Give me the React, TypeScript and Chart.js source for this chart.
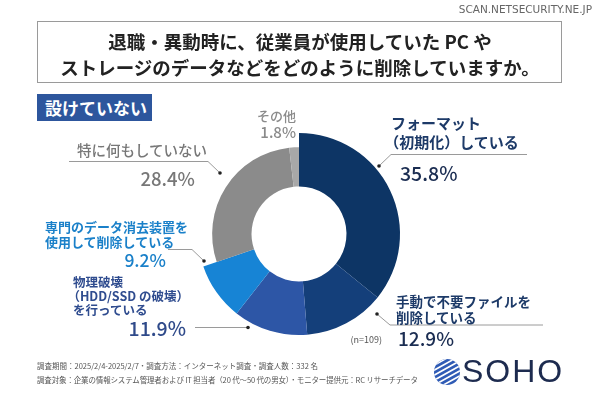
import React, { useEffect, useRef } from "react";
import { Chart, registerables } from "chart.js";

Chart.register(...registerables);

// ---------- data ----------
const titleLines = [
  "退職・異動時に、従業員が使用していた PC や",
  "ストレージのデータなどをどのように削除していますか。",
];
const badgeText = "設けていない";
const categoryLines: string[][] = [
  ["フォーマット", "（初期化）している"],
  ["手動で不要ファイルを", "削除している"],
  ["物理破壊", "（HDD/SSD の破壊）", "を行っている"],
  ["専門のデータ消去装置を", "使用して削除している"],
  ["特に何もしていない"],
  ["その他"],
];
const categories = categoryLines.map((l) => l.join(""));
const values = [35.8, 12.9, 11.9, 9.2, 28.4, 1.8];
const sampleSize = 109;
const footerLines = [
  "調査期間：2025/2/4-2025/2/7・調査方法：インターネット調査・調査人数：332 名",
  "調査対象：企業の情報システム管理者および IT 担当者（20 代～50 代の男女）・モニター提供元：RC リサーチデータ",
];
const sourceText = "SCAN.NETSECURITY.NE.JP";
const brandText = "SOHO";

// ---------- style ----------
const FONT = '"Noto Sans CJK JP", "Noto Sans", sans-serif';
const sliceColors = ["#0d3565", "#143f7a", "#2d56a6", "#1784d5", "#8b8b8b", "#a8a8a8"];
const sliceRadiusFactor = [1, 1, 1, 1, 0.86, 0.86];

type LabelLayout = {
  x: number; y: number; align: "left" | "right"; size: number; gap: number; color: string; weight: number;
  px: number; py: number; pAlign: "left" | "right"; pSize: number; pColor: string;
};
const labelLayout: LabelLayout[] = [
  { x: 391, y: 123, align: "left", size: 15, gap: 18.5, color: "#1d3a68", weight: 700, px: 400, py: 173, pAlign: "left", pSize: 19.5, pColor: "#1b2d52" },
  { x: 396, y: 302, align: "left", size: 13.5, gap: 16, color: "#1d3a68", weight: 700, px: 398, py: 338.5, pAlign: "left", pSize: 19, pColor: "#1b2d52" },
  { x: 73, y: 282, align: "left", size: 12.5, gap: 14.3, color: "#2f4c8f", weight: 700, px: 186, py: 328, pAlign: "right", pSize: 19.5, pColor: "#2f4a8a" },
  { x: 45, y: 227, align: "left", size: 13, gap: 15.2, color: "#1a80c9", weight: 700, px: 166, py: 260, pAlign: "right", pSize: 17.5, pColor: "#1a80c9" },
  { x: 77, y: 150, align: "left", size: 14.5, gap: 16, color: "#777777", weight: 500, px: 195, py: 178, pAlign: "right", pSize: 18.5, pColor: "#777777" },
  { x: 296, y: 116.5, align: "right", size: 13, gap: 15, color: "#8a8a8a", weight: 500, px: 296, py: 131.5, pAlign: "right", pSize: 15, pColor: "#8a8a8a" },
];
const leaders: number[][][] = [
  [[527, 154.5], [391, 154.5], [379, 166]],
  [[543, 325], [390, 325], [377, 314]],
  [[195, 327.5], [248, 327.5]],
  [[168, 249.5], [192, 249.5], [204, 261]],
  [[69, 161.5], [208, 161.5], [220, 173]],
];

const radiusPlugin = {
  id: "sliceRadius",
  afterDatasetsUpdate(chart: any) {
    const meta = chart.getDatasetMeta(0);
    meta.data.forEach((arc: any, i: number) => {
      arc.outerRadius = arc.outerRadius * (sliceRadiusFactor[i] ?? 1);
    });
  },
};

const leaderPlugin = {
  id: "leaders",
  afterDraw(chart: any) {
    const ctx = chart.ctx as CanvasRenderingContext2D;
    ctx.save();
    leaders.forEach((pts) => {
      ctx.beginPath();
      ctx.strokeStyle = "#9a9a9a";
      ctx.lineWidth = 1;
      pts.forEach(([x, y], i) => (i ? ctx.lineTo(x, y) : ctx.moveTo(x, y)));
      ctx.stroke();
      const [dx, dy] = pts[pts.length - 1];
      ctx.beginPath();
      ctx.fillStyle = "#222";
      ctx.arc(dx, dy, 1.8, 0, Math.PI * 2);
      ctx.fill();
    });
    ctx.restore();
  },
};

function Text(props: { x: number; y: number; align: "left" | "right" | "center"; size: number; color: string; weight: number; children: any; lh?: number; family?: string; spacing?: number }) {
  const lh = props.lh ?? props.size * 1.3;
  const style: any = {
    position: "absolute",
    top: props.y - lh / 2,
    lineHeight: lh + "px",
    fontSize: props.size,
    color: props.color,
    fontWeight: props.weight,
    fontFamily: props.family ?? FONT,
    whiteSpace: "nowrap",
    letterSpacing: props.spacing ?? 0,
  };
  if (props.align === "left") style.left = props.x;
  else if (props.align === "right") { style.right = 600 - props.x; style.textAlign = "right"; }
  else { style.left = 0; style.width = 600; style.textAlign = "center"; }
  return <div style={style}>{props.children}</div>;
}

export default function App() {
  const ref = useRef<HTMLCanvasElement>(null);
  useEffect(() => {
    const chart = new Chart(ref.current as HTMLCanvasElement, {
      type: "doughnut",
      data: {
        labels: categories,
        datasets: [{ data: values, backgroundColor: sliceColors, borderWidth: 0 }],
      },
      options: {
        responsive: false,
        animation: false,
        cutout: "47%",
        layout: { padding: { left: 198, right: 200, top: 133, bottom: 64 } },
        plugins: { legend: { display: false }, tooltip: { enabled: false } },
      } as any,
      plugins: [radiusPlugin, leaderPlugin],
    });
    return () => chart.destroy();
  }, []);

  return (
    <div style={{ position: "absolute", left: 0, top: 0, width: 600, height: 399, background: "#fff", overflow: "hidden", fontFamily: FONT }}>
      <canvas ref={ref} width={600} height={399} style={{ position: "absolute", left: 0, top: 0 }} />
      <Text x={592} y={10} align="right" size={10.5} color="#666" weight={400} family='"DejaVu Sans", sans-serif'>{sourceText}</Text>
      <div style={{ position: "absolute", left: 37, top: 21, width: 525, height: 62, border: "1.5px solid #9a9a9a", boxSizing: "border-box" }} />
      <Text x={300} y={41} align="center" size={18.5} color="#222" weight={700}>{titleLines[0]}</Text>
      <Text x={300} y={67} align="center" size={18.5} color="#222" weight={700}>{titleLines[1]}</Text>
      <div style={{ position: "absolute", left: 37, top: 94, width: 115, height: 27, background: "#2d569d", color: "#fff", fontWeight: 700, fontSize: 17, lineHeight: "27px", paddingLeft: 8, boxSizing: "border-box", fontFamily: FONT }}>{badgeText}</div>
      {labelLayout.map((l, i) => (
        <React.Fragment key={i}>
          {categoryLines[i].map((line, j) => (
            <Text key={j} x={l.x - (line.startsWith("（") ? l.size * 0.45 : 0)} y={l.y + j * l.gap} align={l.align} size={l.size} color={l.color} weight={l.weight}>{line}</Text>
          ))}
          <Text x={l.px} y={l.py} align={l.pAlign} size={l.pSize} color={l.pColor} weight={500}>{values[i].toFixed(1) + "%"}</Text>
        </React.Fragment>
      ))}
      <Text x={382} y={340} align="right" size={9} color="#555" weight={400}>{`(n=${sampleSize})`}</Text>
      <Text x={37} y={366} align="left" size={7.5} color="#555" weight={400}>{footerLines[0]}</Text>
      <Text x={37} y={380} align="left" size={7.5} color="#555" weight={400} spacing={-0.15}>{footerLines[1]}</Text>
      <svg style={{ position: "absolute", left: 433, top: 358 }} width={28} height={28} viewBox="0 0 28 28">
        <defs>
          <clipPath id="logoClip"><circle cx={14} cy={14} r={13} /></clipPath>
        </defs>
        <g clipPath="url(#logoClip)">
          <rect x={0} y={0} width={28} height={28} fill="#2f5bb5" />
          {[-16, -11, -6, -1, 4, 9, 14, 19, 24].map((o, k) => (
            <line key={k} x1={-4} y1={o + 16} x2={32} y2={o - 4} stroke="#fff" strokeWidth={1.6} />
          ))}
        </g>
      </svg>
      <Text x={462} y={372} align="left" size={32} color="#1d2b4f" weight={400} spacing={2} family='"Liberation Sans", Arial, sans-serif'>{brandText}</Text>
    </div>
  );
}
